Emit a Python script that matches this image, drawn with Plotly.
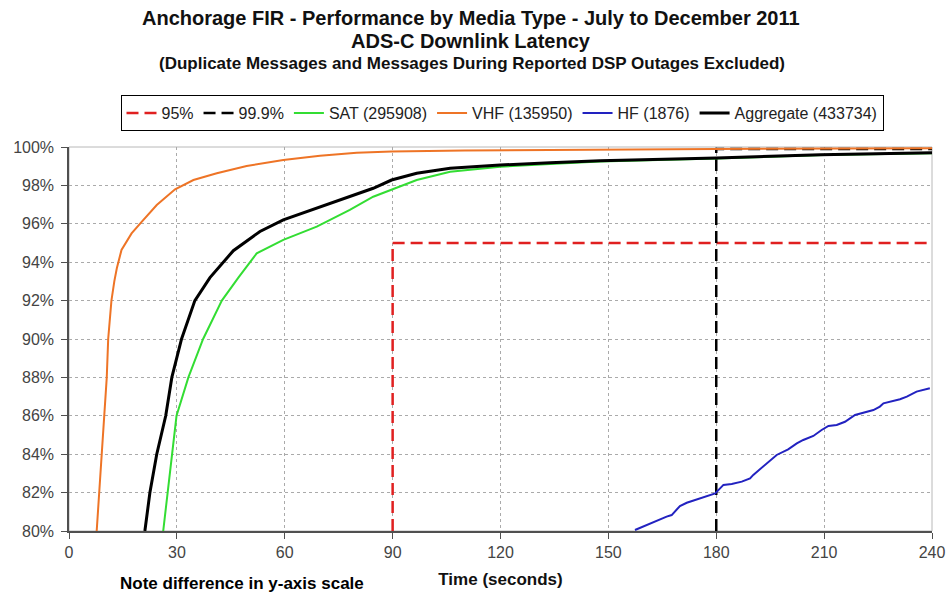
import plotly.graph_objects as go

# ---- data ----
vhf_t = [7.7, 8.4, 9.1, 9.8, 10.5, 10.9, 11.8, 12.6, 13.3, 14.6, 17.4, 20.2, 24.4, 29.5, 34.6, 41.1,
         49.4, 59.6, 69.8, 80, 89.7, 110, 147.7, 180, 240]
vhf_v = [80, 82, 84, 86, 88, 90, 92, 93, 93.68, 94.64, 95.5, 96.1, 96.98, 97.8, 98.28, 98.63,
         99.01, 99.32, 99.55, 99.7, 99.76, 99.82, 99.87, 99.9, 99.93]

agg_t = [21.1, 22.5, 24.4, 26.9, 28.6, 31.3, 35, 39.2, 45.7, 53.1, 59.6, 68.9, 78.1, 84.6, 89.7,
         96.7, 106, 119.9, 133.8, 147.7, 180, 209, 240]
agg_v = [80, 82, 84, 86, 88, 90, 92, 93.2, 94.6, 95.6, 96.2, 96.8, 97.41, 97.85, 98.28,
         98.63, 98.89, 99.06, 99.18, 99.29, 99.43, 99.6, 99.7]

sat_t = [26.2, 27.4, 28.6, 29.9, 33.2, 37.3, 42.5, 47.1, 52.2, 59.6, 68.9, 78.1, 84.6, 89.7, 96.7,
         106, 119.9, 133.8, 147.7, 180, 210, 240]
sat_v = [80, 82, 84, 86, 88, 90, 92, 93.2, 94.46, 95.16, 95.85, 96.72, 97.41, 97.76, 98.28,
         98.71, 98.97, 99.11, 99.24, 99.4, 99.58, 99.68]

hf_t = [157.4, 161.6, 166.2, 167.6, 169.9, 171.8, 174.6, 177.3, 179.7, 182.0, 184.3, 187.1, 189.4, 190.3,
        194.0, 196.8, 200.0, 202.4, 204.2, 207.0, 209.3, 211.2, 213.5, 215.8, 218.6, 220.9, 223.7, 225.5,
        226.5, 231.1, 233.0, 235.7, 239.4]
hf_v = [80.05, 80.40, 80.75, 80.83, 81.30, 81.47, 81.65, 81.79, 81.96, 82.40, 82.45, 82.57, 82.74, 82.92,
        83.52, 83.96, 84.25, 84.56, 84.74, 84.95, 85.26, 85.47, 85.52, 85.69, 86.04, 86.16, 86.30, 86.48,
        86.65, 86.86, 87.00, 87.26, 87.43]

p95_t = [90, 90, 240]
p95_v = [80, 95, 95]
p999_t = [180, 180, 240]
p999_v = [80, 99.9, 99.9]

x_ticks = [0, 30, 60, 90, 120, 150, 180, 210, 240]
y_ticks = [80, 82, 84, 86, 88, 90, 92, 94, 96, 98, 100]
y_labels = [f"{v}%" for v in y_ticks]

FONT = "Liberation Sans, Arial, sans-serif"
L, R, T, B = 69, 19, 147, 70
PW = 951 - L - R
PH = 601 - T - B

fig = go.Figure()
fig.add_trace(go.Scatter(x=p95_t, y=p95_v, mode="lines", name="95%",
                         line=dict(color="#e02020", width=2.5, dash="12px,6px")))
fig.add_trace(go.Scatter(x=p999_t, y=p999_v, mode="lines", name="99.9%",
                         line=dict(color="#000000", width=2.5, dash="12px,6px")))
fig.add_trace(go.Scatter(x=sat_t, y=sat_v, mode="lines", name="SAT (295908)",
                         line=dict(color="#33dd33", width=2)))
fig.add_trace(go.Scatter(x=vhf_t, y=vhf_v, mode="lines", name="VHF (135950)",
                         line=dict(color="#ee7426", width=2)))
fig.add_trace(go.Scatter(x=hf_t, y=hf_v, mode="lines", name="HF (1876)",
                         line=dict(color="#2222c0", width=2)))
fig.add_trace(go.Scatter(x=agg_t, y=agg_v, mode="lines", name="Aggregate (433734)",
                         line=dict(color="#000000", width=3)))

fig.update_layout(
    width=951, height=601,
    margin=dict(l=L, r=R, t=T, b=B, autoexpand=False),
    paper_bgcolor="white", plot_bgcolor="white",
    font=dict(family=FONT, color="#222"),
    showlegend=True,
    legend=dict(orientation="h", x=(502 - L) / PW, xanchor="center", y=1 + (T - 95) / PH, yanchor="top",
                bordercolor="#000", borderwidth=1, font=dict(size=16, color="#222"),
                itemwidth=30, tracegroupgap=0),
    xaxis=dict(range=[0, 240], tickvals=x_ticks, showgrid=True, gridcolor="#aaaaaa",
               griddash="dot", gridwidth=1, showline=True, linecolor="#505050", linewidth=1.5,
               ticks="outside", ticklen=6, tickcolor="#505050", zeroline=False, automargin=False,
               tickfont=dict(size=16, color="#444"),
               title=dict(text="<b>Time (seconds)</b>", font=dict(size=17, color="#111"), standoff=13)),
    yaxis=dict(range=[80, 100], tickvals=y_ticks, ticktext=y_labels, showgrid=True,
               gridcolor="#aaaaaa", griddash="dot", gridwidth=1, showline=True,
               linecolor="#505050", linewidth=1.5, ticks="outside", ticklen=6, automargin=False,
               tickcolor="#505050", zeroline=False, tickfont=dict(size=16, color="#444"),
               ticklabelstandoff=4),
    shapes=[dict(type="rect", xref="paper", yref="paper", x0=0, x1=1, y0=0, y1=1,
                 line=dict(color="#b8b8b8", width=1), layer="below")],
    annotations=[
        dict(text="<b>Anchorage FIR - Performance by Media Type - July to December 2011</b>",
             xref="paper", yref="paper", x=(471 - L) / PW, y=1 + (T - 18) / PH,
             xanchor="center", yanchor="middle", showarrow=False,
             font=dict(size=20, color="#111")),
        dict(text="<b>ADS-C Downlink Latency</b>",
             xref="paper", yref="paper", x=(471 - L) / PW, y=1 + (T - 41) / PH,
             xanchor="center", yanchor="middle", showarrow=False,
             font=dict(size=20, color="#111")),
        dict(text="<b>(Duplicate Messages and Messages During Reported DSP Outages Excluded)</b>",
             xref="paper", yref="paper", x=(472 - L) / PW, y=1 + (T - 63) / PH,
             xanchor="center", yanchor="middle", showarrow=False,
             font=dict(size=17, color="#111")),
        dict(text="<b>Note difference in y-axis scale</b>",
             xref="paper", yref="paper", x=(118 - L) / PW, y=-(583 - (601 - B)) / PH,
             xanchor="left", yanchor="middle", showarrow=False,
             font=dict(size=17, color="#000", family="Liberation Sans, Arial, sans-serif")),
    ],
)

fig.write_html("out.html")
